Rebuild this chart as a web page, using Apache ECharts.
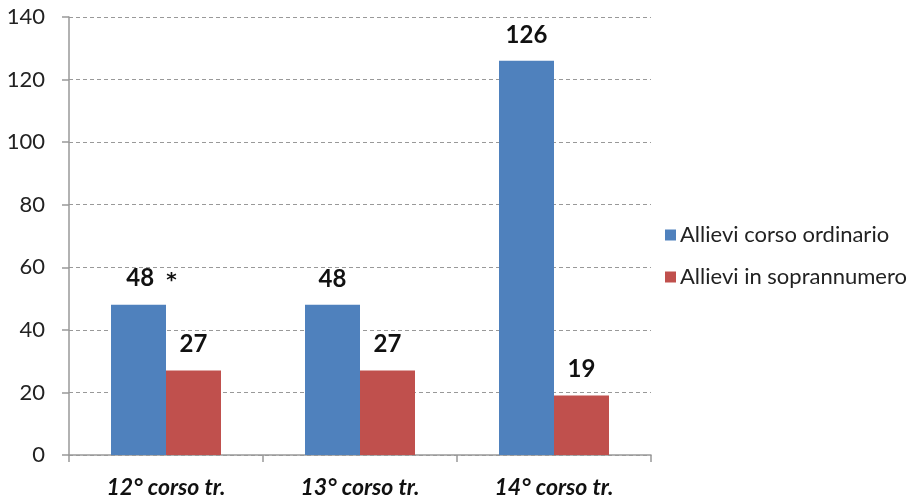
<!DOCTYPE html>
<html>
<head>
<meta charset="utf-8">
<script src="https://cdn.jsdelivr.net/npm/echarts@6/dist/echarts.min.js"></script>
<style>
  html, body { margin: 0; padding: 0; background: #fff; }
  #main { width: 920px; height: 499px; }
</style>
</head>
<body>
<div id="main"></div>
<script>
var categories = ['12° corso tr.', '13° corso tr.', '14° corso tr.'];
var ordinario = [48, 48, 126];
var soprannumero = [27, 27, 19];
var yTicks = [0, 20, 40, 60, 80, 100, 120, 140];

var chart = echarts.init(document.getElementById('main'), null, { renderer: 'canvas' });

var valueLabel = {
  show: true,
  position: 'top',
  distance: 14,
  fontFamily: 'Lato, "Open Sans", sans-serif',
  fontWeight: 'bold',
  fontSize: 24,
  color: '#111'
};

// first blue bar carries the asterisk
var ordinarioData = ordinario.map(function (v, i) {
  if (i === 0) {
    return {
      value: v,
      label: {
        formatter: '{v|{c}}{s|*}',
        offset: [13, 0],
        rich: {
          v: { fontFamily: 'Lato, sans-serif', fontWeight: 'bold', fontSize: 24, color: '#111' },
          s: { fontFamily: '"DejaVu Sans", sans-serif', fontWeight: 'bold', fontSize: 20, color: '#111', padding: [6, 0, 0, 12] }
        }
      }
    };
  }
  return v;
});

var option = {
  animation: false,
  grid: { left: 69, right: 269, top: 17, bottom: 44 },
  legend: {
    orient: 'vertical',
    left: 660,
    top: 219,
    itemWidth: 11,
    itemHeight: 11,
    itemGap: 20,
    icon: 'rect',
    textStyle: { fontFamily: 'Lato, "Open Sans", sans-serif', fontSize: 22, color: '#222', padding: [0, 0, 0, -1] }
  },
  xAxis: {
    type: 'category',
    data: categories,
    axisLine: { lineStyle: { color: '#999', width: 1.5 } },
    axisTick: { show: true, length: 7, lineStyle: { color: '#999', width: 1.5 } },
    axisLabel: {
      margin: 21,
      fontFamily: 'Lato, "Open Sans", sans-serif',
      fontStyle: 'italic',
      fontWeight: 'bold',
      fontSize: 23,
      color: '#111'
    }
  },
  yAxis: {
    type: 'value',
    min: yTicks[0],
    max: yTicks[yTicks.length - 1],
    interval: 20,
    axisLine: { show: true, lineStyle: { color: '#999', width: 1.5 } },
    axisTick: { show: true, inside: false, length: 7, lineStyle: { color: '#999', width: 1.5 } },
    axisLabel: {
      margin: 24,
      fontFamily: 'Lato, "Open Sans", sans-serif',
      fontSize: 22,
      color: '#222'
    },
    splitLine: { lineStyle: { color: '#999', type: [4, 3], width: 1.2 } }
  },
  series: [
    {
      name: 'Allievi corso ordinario',
      type: 'bar',
      data: ordinarioData,
      barWidth: 55,
      barGap: '0%',
      itemStyle: { color: '#4f81bd' },
      label: valueLabel
    },
    {
      name: 'Allievi in soprannumero',
      type: 'bar',
      data: soprannumero,
      barWidth: 55,
      itemStyle: { color: '#c0504d' },
      label: valueLabel
    }
  ]
};

chart.setOption(option);
</script>
</body>
</html>
